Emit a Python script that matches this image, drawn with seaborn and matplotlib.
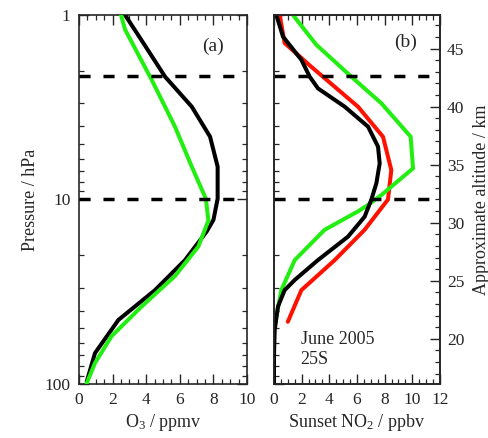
import numpy as np
import pandas as pd
import matplotlib
matplotlib.use("Agg")
import matplotlib.pyplot as plt
from matplotlib.ticker import MultipleLocator, NullFormatter, FixedLocator, FixedFormatter
import seaborn as sns

sns.set_theme(style="ticks")
plt.rcParams["font.family"] = ["Liberation Serif", "DejaVu Serif"]
plt.rcParams["mathtext.fontset"] = "custom"
plt.rcParams["mathtext.rm"] = "Liberation Serif"
plt.rcParams["mathtext.it"] = "Liberation Serif:italic"
plt.rcParams["mathtext.default"] = "regular"

# Panel (a): ozone profiles (ppmv) vs pressure (hPa)
o3_black_p = [1.0, 1.42, 2.16, 3.14, 4.57, 6.64, 9.9, 12.9, 14.9, 21.3, 31, 45, 68, 97]
o3_black_v = [2.74, 3.83, 5.12, 6.71, 7.80, 8.25, 8.25, 8.0, 7.6, 6.31, 4.52, 2.34, 0.95, 0.46]
o3_green_p = [1.0, 1.2, 2.25, 4.03, 6.64, 9.9, 13.0, 18, 26, 38, 55, 77, 99]
o3_green_v = [2.5, 2.74, 4.33, 5.71, 6.71, 7.55, 7.7, 7.1, 5.71, 3.73, 1.94, 0.95, 0.46]

# Panel (b): sunset NO2 profiles (ppbv) vs pressure (hPa)
no2_black_p = [1.0, 1.31, 1.75, 2.16, 2.5, 3.14, 4.03, 5.17, 6.37, 8.17, 10.0, 12.4, 15.9, 21.3, 27.3, 31, 38, 51, 70, 100]
no2_black_v = [0.17, 0.65, 1.98, 2.58, 3.18, 5.11, 6.8, 7.52, 7.64, 7.4, 7.04, 6.55, 5.35, 3.18, 1.5, 0.77, 0.29, 0.05, 0.0, 0.0]
no2_red_p = [1.0, 1.42, 1.91, 2.45, 3.14, 4.57, 6.92, 10.0, 14.6, 21.3, 31, 46]
no2_red_v = [0.41, 0.77, 2.7, 4.39, 6.07, 7.88, 8.48, 8.24, 6.55, 4.39, 1.98, 1.0]
no2_green_p = [1.0, 1.45, 2.16, 3.01, 4.57, 6.78, 9.46, 10.7, 11.6, 14.6, 21.3, 31, 43, 50]
no2_green_v = [1.37, 3.06, 5.59, 7.76, 9.88, 10.05, 7.76, 6.8, 6.07, 3.66, 1.5, 0.53, 0.17, 0.05]

dash_levels = [2.15, 10.0]
alt_ticks = [20, 25, 30, 35, 40, 45]
alt_range = (16.1, 47.9)

GREEN = "#22ee11"
RED = "#ff1100"
LW = 2.9

fig = plt.figure(figsize=(4.89, 4.38), dpi=100)
ax1 = fig.add_axes([0.1616, 0.1233, 0.3436, 0.8425])
ax2 = fig.add_axes([0.5603, 0.1233, 0.3395, 0.8425])


def profile(ax, v, p, color, z):
    df = pd.DataFrame({"v": v, "p": p})
    sns.lineplot(data=df, x="v", y="p", sort=False, estimator=None, ax=ax,
                 color=color, lw=LW, zorder=z, solid_joinstyle="miter")


profile(ax1, o3_black_v, o3_black_p, "black", 3)
profile(ax1, o3_green_v, o3_green_p, GREEN, 4)

profile(ax2, no2_red_v, no2_red_p, RED, 3)
profile(ax2, no2_green_v, no2_green_p, GREEN, 4)
profile(ax2, no2_black_v, no2_black_p, "black", 5)

log_minor = [m * d for d in (1, 10) for m in range(2, 10)]

for ax, xmax in ((ax1, 10), (ax2, 12)):
    ax.set_yscale("log")
    ax.set_ylim(100, 1)
    ax.set_xlim(0, xmax)
    for lev in dash_levels:
        ax.axhline(lev, color="black", lw=2.5, ls=(0, (3.2, 3.7)), zorder=6)
    ax.xaxis.set_major_locator(MultipleLocator(2))
    ax.xaxis.set_minor_locator(MultipleLocator(0.5))
    ax.yaxis.set_major_locator(FixedLocator([1, 10, 100]))
    ax.yaxis.set_major_formatter(FixedFormatter(["1", "10", "100"]))
    ax.yaxis.set_minor_locator(FixedLocator(log_minor))
    ax.yaxis.set_minor_formatter(NullFormatter())
    ax.tick_params(which="major", direction="in", length=7, width=1, top=True,
                   labelsize=12.5, pad=6)
    ax.tick_params(which="minor", direction="in", length=3.5, width=0.9, top=True)
    for s in ax.spines.values():
        s.set_linewidth(1.2)
    ax.set_xlabel("")
    ax.set_ylabel("")

ax1.tick_params(which="both", left=True, right=True)
ax2.tick_params(which="both", left=True, right=False, labelleft=False)

ax1.set_xticks([0, 2, 4, 6, 8, 10])
ax1.set_xticklabels(["0", "2", "4", "6", "8", "10"])
ax2.set_xticks([0, 2, 4, 6, 8, 10, 12])
ax2.set_xticklabels(["0", "2", "4", "6", "8", "10", "12"])

ax1.set_ylabel("Pressure / hPa", fontsize=13, labelpad=4)
ax1.set_xlabel("O$_3$ / ppmv", fontsize=13, labelpad=3)
ax2.set_xlabel("Sunset NO$_2$ / ppbv", fontsize=13, labelpad=3)

ax1.text(0.80, 0.915, "(a)", transform=ax1.transAxes, fontsize=14, ha="center", va="center")
ax2.text(0.79, 0.925, "(b)", transform=ax2.transAxes, fontsize=14, ha="center", va="center")
ax2.text(0.16, 0.093, "June 2005\n25S", transform=ax2.transAxes, fontsize=13,
         ha="left", va="center", linespacing=1.2)

# Approximate altitude scale on the right of panel (b)
ax3 = ax2.twinx()
ax3.set_ylim(*alt_range)
ax3.yaxis.set_major_locator(FixedLocator(alt_ticks))
ax3.yaxis.set_minor_locator(FixedLocator(list(range(17, 48))))
ax3.tick_params(which="major", direction="in", length=7, width=1, labelsize=12.5, pad=5,
                right=True)
ax3.tick_params(which="minor", direction="in", length=3.5, width=0.9, right=True)
ax3.set_ylabel("Approximate altitude / km", fontsize=13, labelpad=6)
for s in ax3.spines.values():
    s.set_linewidth(1.2)

fig.savefig("out.png", dpi=100)
